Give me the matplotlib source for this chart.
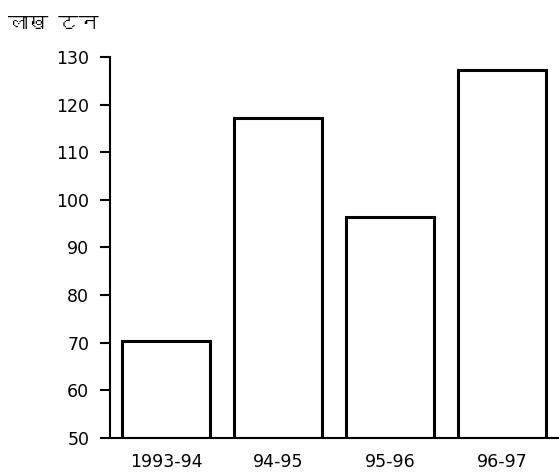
import matplotlib
matplotlib.use('Agg')
import matplotlib.pyplot as plt
from matplotlib import font_manager
from matplotlib.ft2font import FT2Font

# data
years = ['1993-94', '94-95', '95-96', '96-97']
values = [70.4, 117.1, 96.3, 127.3]
yticks = [50, 60, 70, 80, 90, 100, 110, 120, 130]
unit = 'लाख टन'


# look for an installed family that has Devanagari glyphs
def find_family(ch):
    for f in font_manager.fontManager.ttflist:
        try:
            if ord(ch) in FT2Font(f.fname).get_charmap():
                return f.name
        except Exception:
            pass
    return None


deva = find_family('ख')
unit_fonts = [deva, 'DejaVu Sans'] if deva else ['DejaVu Sans']

plt.rcParams['font.family'] = ['DejaVu Sans']

fig = plt.figure(figsize=(5.59, 4.75), dpi=100)
ax = fig.add_axes([0.197, 0.078, 0.803, 0.802])

ax.bar(range(len(years)), [v - 50 for v in values], bottom=50, width=0.79,
       color='white', edgecolor='black', linewidth=2.2)

ax.set_xlim(-0.5, 3.51)
ax.set_ylim(50, 130)
ax.set_yticks(yticks)
ax.set_yticklabels([str(t) for t in yticks])
ax.set_xticks(range(len(years)))
ax.set_xticklabels(years)

ax.spines['top'].set_visible(False)
ax.spines['right'].set_visible(False)
ax.spines['left'].set_linewidth(1.5)
ax.spines['bottom'].set_linewidth(1.5)
ax.tick_params(axis='y', length=7, width=1.5, pad=8, labelsize=12.5)
ax.tick_params(axis='x', length=0, pad=11, labelsize=12.5)

fig.text(0.014, 0.95, unit, fontsize=14.5, ha='left', va='center',
         family=unit_fonts)

fig.savefig('out.png', dpi=100)
